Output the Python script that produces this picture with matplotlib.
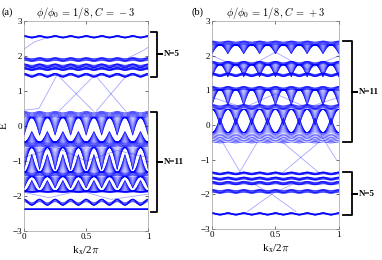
import numpy as np
import matplotlib.pyplot as plt

plt.rcParams['font.family'] = ['Liberation Serif', 'DejaVu Serif']
plt.rcParams['mathtext.fontset'] = 'cm'

n_period = 8  # flux 1/8 -> 8 oscillations across the zone

# ---- panel (a): C = -3 ----
# wavy bands: centre, oscillation amplitude, band thickness
wave_c_a = [2.55, 1.90, 1.72, 1.63, 1.45, 0.32, -0.53, -1.38, -1.88, -2.18, -2.38]
wave_amp_a = [0.03, 0.03, 0.04, 0.03, 0.05, 0.04, 0.03, 0.04, 0.01, 0.09, 0.0]
wave_w_a = [0.03, 0.08, 0.07, 0.05, 0.05, 0.15, 0.12, 0.10, 0.02, 0.06, 0.02]
# triangle fans: flat edge, tip depth (signed), phase
fan_e_a = [0.24, -0.46, -0.62, -1.32, -1.45, -1.86]
fan_d_a = [-0.50, 0.30, -0.62, 0.50, -0.32, 0.30]
fan_p_a = [0.0, 0.5, 0.0, 0.5, 0.0, 0.5]
# edge states
edge_k_a = [[0.28, 0.56], [0.28, 0.56], [0.58, 0.82], [0.58, 0.82],
            [0.0, 0.12, 0.26], [0.0, 0.08, 0.18], [0.84, 0.93, 1.0],
            [0.0, 0.25, 0.5, 0.75, 1.0], [0.0, 0.2, 0.45, 0.7, 1.0]]
edge_e_a = [[0.42, 1.42], [1.42, 0.42], [1.42, 0.42], [0.42, 1.42],
            [0.45, 0.5, 1.42], [2.2, 2.4, 2.52], [1.95, 2.1, 2.25],
            [-0.9, -0.6, -1.0, -0.7, -0.9], [-1.9, -2.05, -1.85, -2.1, -1.95]]

# ---- panel (b): C = +3 ----
wave_c_b = [2.36, 1.78, 1.45, 1.05, 0.52, -0.38, -1.40, -1.55, -1.68, -1.92, -2.57]
wave_amp_b = [0.03, 0.04, 0.04, 0.04, 0.04, 0.03, 0.03, 0.03, 0.03, 0.03, 0.03]
wave_w_b = [0.10, 0.07, 0.06, 0.08, 0.10, 0.25, 0.05, 0.06, 0.07, 0.08, 0.03]
fan_e_b = [2.31, 1.74, 1.02, 0.45, -0.22]
fan_d_b = [-0.25, -0.35, -0.45, -0.45, 0.42]
fan_p_b = [0.0, 0.0, 0.0, 0.5, 0.5]
edge_k_b = [[0.08, 0.22, 0.36], [0.55, 0.85], [0.55, 0.85], [0.86, 0.98],
            [0.28, 0.47, 0.7], [0.28, 0.47, 0.66], [0.0, 0.25, 0.5, 0.75, 1.0],
            [0.0, 0.25, 0.5, 0.75, 1.0]]
edge_e_b = [[-0.48, -1.35, -0.48], [-0.48, -1.4], [-1.4, -0.48], [-0.3, -1.0],
            [-2.5, -2.0, -1.6], [-1.6, -2.0, -2.5], [2.0, 1.6, 2.1, 1.6, 2.0],
            [0.8, 0.5, 0.9, 0.5, 0.8]]

brace_a = [(2.69, 1.40, 'N=5'), (0.40, -2.45, 'N=11')]
brace_b = [(2.43, -0.50, 'N=11'), (-1.37, -2.60, 'N=5')]

k = np.linspace(0, 1, 1601)
blue = '#0000ff'


def draw_bands(ax, wc, wa, ww, fe, fd, fp, ek, ee):
    for c, a, w in zip(wc, wa, ww):
        for s in np.linspace(-0.5, 0.5, 7):
            e = c + s * w + a * np.cos(2 * np.pi * n_period * k) * (1 - abs(s))
            ax.plot(k, e, color=blue, lw=0.6, alpha=0.7)
    for e0, d, p in zip(fe, fd, fp):
        shape = 1 - np.abs(np.sin(np.pi * (n_period * k + p)))
        for s in np.linspace(0, 1, 18):
            ax.plot(k, e0 + s * d * shape, color=blue, lw=0.4, alpha=0.4)
        ax.plot(k, e0 + d * shape, color=blue, lw=0.5, alpha=0.9)
    for kk, e in zip(ek, ee):
        kk = np.asarray(kk)
        ks = np.linspace(kk[0], kk[-1], 200)
        ax.plot(ks, np.interp(ks, kk, e), color=blue, lw=0.6, alpha=0.35)


def draw_brace(ax, top, bot, label, x0, x1, x2):
    mid = (top + bot) / 2
    ax.plot([x0, x1, x1, x2, x1, x1, x0], [top, top, mid, mid, mid, bot, bot],
            color='black', lw=1.3, clip_on=False, solid_joinstyle='round')
    ax.text(x2 + 0.02, mid, label, fontsize=6.5, fontweight='bold',
            va='center', ha='left')


fig = plt.figure(figsize=(3.82, 2.60), dpi=100)
ax1 = fig.add_axes([0.063, 0.112, 0.325, 0.807])
ax2 = fig.add_axes([0.555, 0.120, 0.332, 0.799])

draw_bands(ax1, wave_c_a, wave_amp_a, wave_w_a, fan_e_a, fan_d_a, fan_p_a,
           edge_k_a, edge_e_a)
draw_bands(ax2, wave_c_b, wave_amp_b, wave_w_b, fan_e_b, fan_d_b, fan_p_b,
           edge_k_b, edge_e_b)

for top, bot, lab in brace_a:
    draw_brace(ax1, top, bot, lab, 1.02, 1.07, 1.11)
for top, bot, lab in brace_b:
    draw_brace(ax2, top, bot, lab, 1.03, 1.10, 1.14)

for ax, title in [(ax1, r'$\phi/\phi_0\,=\,1/8\,,C\,=\,-3$'),
                  (ax2, r'$\phi/\phi_0\,=\,1/8\,,C\,=\,+3$')]:
    ax.set_xlim(0, 1)
    ax.set_ylim(-3, 3)
    ax.set_xticks([0, 0.5, 1])
    ax.set_xticklabels(['0', '0.5', '1'])
    ax.set_yticks([-3, -2, -1, 0, 1, 2, 3])
    ax.tick_params(direction='in', length=2, width=0.4, labelsize=6.5, pad=1.5,
                   top=True, right=True)
    for sp in ax.spines.values():
        sp.set_linewidth(0.4)
        sp.set_color('#888888')
    ax.set_title(title, fontsize=7.5, pad=4)
    ax.set_xlabel(r'k$_\mathregular{x}$/2$\pi$', fontsize=8, labelpad=2)

fig.text(0.005, 0.955, '(a)', fontsize=7.5, va='center')
fig.text(0.502, 0.955, '(b)', fontsize=7.5, va='center')
ax1.set_ylabel('E', fontsize=8, labelpad=3)

fig.savefig('out.png', dpi=100)
